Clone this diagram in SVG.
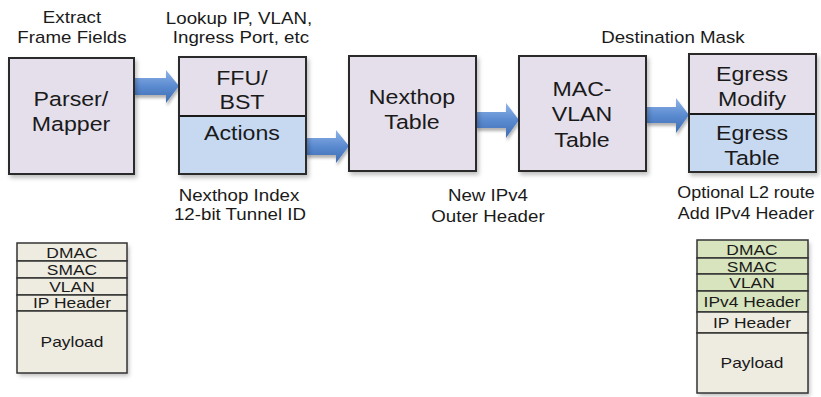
<svg xmlns="http://www.w3.org/2000/svg" width="821" height="397" viewBox="0 0 821 397">
  <style>
    text { font-family: "Liberation Sans", Arial, sans-serif; fill: #1a1a1a; text-anchor: middle;
           transform-box: fill-box; transform-origin: center; }
    .lbl { font-size: 16px; transform: scaleX(1.17); }
    .lbl.tight { transform: scaleX(1.12); }
    .big { font-size: 20.5px; transform: scaleX(1.13); }
    .pk { font-size: 15px; transform: scaleX(1.16); }
    .box { stroke: #2b2b2b; stroke-width: 2; filter: url(#shadow); }
    .lav { fill: #e4dfeb; }
    .blu { fill: #c6d9f1; }
    .cell { stroke: #333; stroke-width: 1.5; }
    .beige { fill: #eeece1; }
    .grn { fill: #d7e4bd; }
    .arrow { fill: url(#arrowFill); filter: url(#ashadow); }
  </style>
  <defs>
    <filter id="shadow" x="-10%" y="-10%" width="130%" height="130%">
      <feDropShadow dx="2" dy="3" stdDeviation="2" flood-color="#000" flood-opacity="0.25"/>
    </filter>
    <filter id="ashadow" x="-20%" y="-20%" width="150%" height="160%">
      <feDropShadow dx="1" dy="3" stdDeviation="1.5" flood-color="#000" flood-opacity="0.3"/>
    </filter>
    <linearGradient id="arrowFill" x1="0" y1="0" x2="0" y2="1">
      <stop offset="0" stop-color="#8fb4e8"/>
      <stop offset="0.5" stop-color="#5a8ad0"/>
      <stop offset="1" stop-color="#3e6db3"/>
    </linearGradient>
  </defs>
  <rect width="821" height="397" fill="#ffffff"/>

  <!-- connectors: block arrows between stages -->
  <g id="connectors">
    <path class="arrow" d="M134,78 H166 V70 L179,86 L166,103 V95 H134 Z"/>
    <path class="arrow" d="M306,138 H336 V130 L349,146 L336,163 V155 H306 Z"/>
    <path class="arrow" d="M476,112 H506 V103 L519,120 L506,138 V128 H476 Z"/>
    <path class="arrow" d="M646,107 H676 V98 L689,115 L676,133 V123 H646 Z"/>
  </g>

  <!-- captions around the stages -->
  <g id="captions">
    <text class="lbl" x="72" y="23">Extract</text>
    <text class="lbl" x="72" y="43">Frame Fields</text>
    <text class="lbl" x="239" y="24">Lookup IP, VLAN,</text>
    <text class="lbl" x="241" y="43">Ingress Port, etc</text>
    <text class="lbl" x="673" y="43">Destination Mask</text>
    <text class="lbl" x="239" y="201">Nexthop Index</text>
    <text class="lbl" x="240" y="220">12-bit Tunnel ID</text>
    <text class="lbl" x="488" y="201">New IPv4</text>
    <text class="lbl" x="488" y="222">Outer Header</text>
    <text class="lbl tight" x="746" y="198">Optional L2 route</text>
    <text class="lbl tight" x="746" y="219">Add IPv4 Header</text>
  </g>

  <g id="parser">
    <rect class="box lav" x="9" y="58" width="125" height="116"/>
    <text class="big" x="71" y="106">Parser/</text>
    <text class="big" x="71" y="131">Mapper</text>
  </g>

  <g id="ffu">
    <rect class="box lav" x="179" y="57" width="127" height="117"/>
    <rect class="blu" x="180" y="117" width="125" height="56"/>
    <line x1="179" y1="116" x2="306" y2="116" stroke="#1a1a1a" stroke-width="2"/>
    <rect x="179" y="57" width="127" height="117" fill="none" stroke="#2b2b2b" stroke-width="2"/>
    <text class="big" x="242" y="85">FFU/</text>
    <text class="big" x="242" y="109">BST</text>
    <text class="big" x="242" y="140">Actions</text>
  </g>

  <g id="nexthop">
    <rect class="box lav" x="349" y="56" width="127" height="115"/>
    <text class="big" x="412" y="104">Nexthop</text>
    <text class="big" x="412" y="129">Table</text>
  </g>

  <g id="macvlan">
    <rect class="box lav" x="519" y="56" width="127" height="115"/>
    <text class="big" x="582" y="96">MAC-</text>
    <text class="big" x="582" y="121">VLAN</text>
    <text class="big" x="582" y="147">Table</text>
  </g>

  <g id="egress">
    <rect class="box lav" x="689" y="54" width="127" height="118"/>
    <rect class="blu" x="690" y="115" width="125" height="56"/>
    <line x1="689" y1="114" x2="816" y2="114" stroke="#1a1a1a" stroke-width="2"/>
    <rect x="689" y="54" width="127" height="118" fill="none" stroke="#2b2b2b" stroke-width="2"/>
    <text class="big" x="752" y="81">Egress</text>
    <text class="big" x="752" y="106">Modify</text>
    <text class="big" x="752" y="140">Egress</text>
    <text class="big" x="752" y="165">Table</text>
  </g>

  <!-- incoming frame layout -->
  <g id="frame-in">
    <rect class="beige" x="17" y="243" width="110" height="130" filter="url(#shadow)"/>
    <rect class="cell beige" x="17" y="243" width="110" height="18"/>
    <rect class="cell beige" x="17" y="261" width="110" height="17"/>
    <rect class="cell beige" x="17" y="278" width="110" height="17"/>
    <rect class="cell beige" x="17" y="295" width="110" height="16"/>
    <rect class="cell beige" x="17" y="311" width="110" height="62"/>
    <text class="pk" x="72" y="258">DMAC</text>
    <text class="pk" x="72" y="275">SMAC</text>
    <text class="pk" x="72" y="292">VLAN</text>
    <text class="pk" x="72" y="308">IP Header</text>
    <text class="pk" x="72" y="347">Payload</text>
  </g>

  <!-- outgoing frame layout -->
  <g id="frame-out">
    <rect class="beige" x="697" y="240" width="111" height="153" filter="url(#shadow)"/>
    <rect class="cell grn" x="697" y="240" width="111" height="18"/>
    <rect class="cell grn" x="697" y="258" width="111" height="16"/>
    <rect class="cell grn" x="697" y="274" width="111" height="17"/>
    <rect class="cell grn" x="697" y="291" width="111" height="21"/>
    <rect class="cell beige" x="697" y="312" width="111" height="21"/>
    <rect class="cell beige" x="697" y="333" width="111" height="60"/>
    <text class="pk" x="752" y="255">DMAC</text>
    <text class="pk" x="752" y="272">SMAC</text>
    <text class="pk" x="752" y="288">VLAN</text>
    <text class="pk" x="752" y="307">IPv4 Header</text>
    <text class="pk" x="752" y="328">IP Header</text>
    <text class="pk" x="752" y="368">Payload</text>
  </g>
</svg>
